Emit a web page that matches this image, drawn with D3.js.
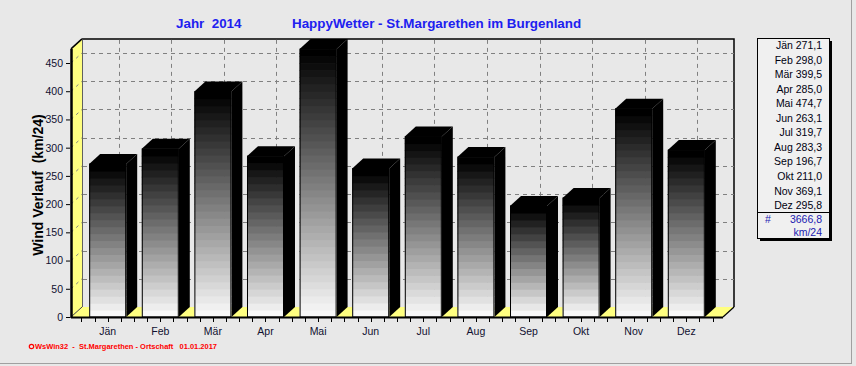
<!DOCTYPE html>
<html>
<head>
<meta charset="utf-8">
<script src="https://cdn.jsdelivr.net/npm/d3@7"></script>
<style>
  html, body { margin: 0; padding: 0; background: #e8e8e8; }
  svg { display: block; }
  text { font-family: "Liberation Sans", Arial, sans-serif; }
</style>
</head>
<body>
<svg id="chart" width="856" height="366"></svg>
<script>
const months = ["Jän","Feb","Mär","Apr","Mai","Jun","Jul","Aug","Sep","Okt","Nov","Dez"];
const values = [271.1,298.0,399.5,285.0,474.7,263.1,319.7,283.3,196.7,211.0,369.1,295.8];
const yTicks = [0,50,100,150,200,250,300,350,400,450];
const yMax = 475;
const titleYear = "Jahr  2014";
const titleMain = "HappyWetter - St.Margarethen im Burgenland";
const yLabel = "Wind Verlauf  (km/24)";
const totalLabel = "3666,8";
const unitLabel = "km/24";
const footer = "WsWin32  -  St.Margarethen - Ortschaft   01.01.2017";

const svg = d3.select("#chart");
const W = 856, H = 366;
const dx = 11, dy = 10;
const x0 = 71, x1 = 723, yBase = 317;

svg.append("rect").attr("x",0).attr("y",0).attr("width",W).attr("height",H).attr("fill","#e8e8e8");
svg.append("line").attr("x1",851.5).attr("x2",851.5).attr("y1",0).attr("y2",364).attr("stroke","#a0a0a0");
svg.append("line").attr("x1",0).attr("x2",852).attr("y1",363.5).attr("y2",363.5).attr("stroke","#a0a0a0");

const x = d3.scaleBand().domain(months).range([x0, x1]).paddingInner(0.2966).paddingOuter(0.3458);
const y = d3.scaleLinear().domain([0, 450]).range([yBase, 63]);
const bw = x.bandwidth();
const yTop = y(yMax);

// back wall border
svg.append("path")
  .attr("d", `M${x0+dx},${yTop-dy} L${x1+dx},${yTop-dy} L${x1+dx},${yBase-dy}`)
  .attr("fill","none").attr("stroke","#000").attr("stroke-width",1.5);

// left wall (yellow)
svg.append("path")
  .attr("d", `M${x0},${yBase} L${x0+dx},${yBase-dy} L${x0+dx},${yTop-dy} L${x0},${yTop} Z`)
  .attr("fill","#ffff80").attr("stroke","none");
svg.append("line").attr("x1",x0+dx+0.5).attr("x2",x0+dx+0.5).attr("y1",yTop-dy).attr("y2",yBase-dy)
  .attr("stroke","#606060").attr("stroke-width",1);
svg.append("line").attr("x1",x0).attr("y1",yTop).attr("x2",x0+dx).attr("y2",yTop-dy)
  .attr("stroke","#000").attr("stroke-width",1.5);

// floor (yellow)
svg.append("path")
  .attr("d", `M${x0},${yBase} L${x1},${yBase} L${x1+dx},${yBase-dy} L${x0+dx},${yBase-dy} Z`)
  .attr("fill","#ffff80").attr("stroke","none");
svg.append("line").attr("x1",x0).attr("y1",yBase).attr("x2",x0+dx).attr("y2",yBase-dy)
  .attr("stroke","#404040").attr("stroke-width",1);
svg.append("line").attr("x1",x1).attr("y1",yBase).attr("x2",x1+dx).attr("y2",yBase-dy)
  .attr("stroke","#000").attr("stroke-width",1.2);

// grid: horizontal on back wall + diagonals on left wall
const gridTicks = yTicks.filter(v => v > 0);
svg.append("g").selectAll("line").data(gridTicks).join("line")
  .attr("x1", x0+dx+1).attr("x2", x1+dx)
  .attr("y1", d => Math.round(y(d)-dy)+0.5).attr("y2", d => Math.round(y(d)-dy)+0.5)
  .attr("stroke","#808080").attr("stroke-dasharray","4,4");
svg.append("g").selectAll("line").data(gridTicks).join("line")
  .attr("x1", x0).attr("x2", x0+dx)
  .attr("y1", d => y(d)).attr("y2", d => y(d)-dy)
  .attr("stroke","#808080").attr("stroke-dasharray","3,4");
// vertical grid on back wall
svg.append("g").selectAll("line").data(months).join("line")
  .attr("x1", d => Math.round(x(d)+bw/2+dx)+0.5).attr("x2", d => Math.round(x(d)+bw/2+dx)+0.5)
  .attr("y1", yTop-dy+1).attr("y2", yBase-dy)
  .attr("stroke","#808080").attr("stroke-dasharray","4,4");

// bars
const bars = svg.append("g").selectAll("g").data(months.map((m,i)=>({m, v: values[i]}))).join("g");
bars.each(function(d){
  const g = d3.select(this);
  const xl = x(d.m), xr = xl + bw;
  const yt = y(d.v);
  const h = yBase - yt;
  // side face
  g.append("path")
    .attr("d", `M${xr},${yt} L${xr+dx},${yt-dy} L${xr+dx},${yBase-dy} L${xr},${yBase} Z`)
    .attr("fill","#000");
  // top face
  g.append("path")
    .attr("d", `M${xl},${yt} L${xl+dx},${yt-dy} L${xr+dx},${yt-dy} L${xr},${yt} Z`)
    .attr("fill","#000");
  // front face gradient bands
  const n = Math.max(2, Math.round(h/7));
  const bh = h / n;
  const bands = d3.range(n);
  g.selectAll("rect.band").data(bands).join("rect")
    .attr("class","band")
    .attr("x", xl).attr("width", bw)
    .attr("y", k => yBase - (k+1)*bh).attr("height", bh + 0.6)
    .attr("fill", k => { const c = Math.round(248*(1 - k/(n-1))); return d3.rgb(c,c,c); });
  g.append("rect").attr("x", xl+0.5).attr("y", yt).attr("width", bw-1).attr("height", h)
    .attr("fill","none").attr("stroke","#000").attr("stroke-width",1);
});

// front floor edge & left axis
svg.append("line").attr("x1",x0).attr("x2",x1).attr("y1",yBase+0.5).attr("y2",yBase+0.5)
  .attr("stroke","#000").attr("stroke-width",2);
svg.append("line").attr("x1",x0+0.5).attr("x2",x0+0.5).attr("y1",yTop).attr("y2",yBase+1)
  .attr("stroke","#000").attr("stroke-width",2.5);

// y axis ticks & labels
const yAxis = d3.axisLeft(y).tickValues(yTicks).tickSize(4).tickPadding(3).tickFormat(d3.format("d"));
const ya = svg.append("g").attr("transform",`translate(${x0-1},0)`).call(yAxis);
ya.select(".domain").remove();
ya.selectAll("line").attr("stroke","#000");
ya.selectAll("text").attr("font-size","10.5px").attr("fill","#101030")
  .attr("font-family","'Liberation Sans', Arial, sans-serif");

// x ticks (quarter-step)
const step = x.step();
const xTickPos = d3.range(0, 12*4+1).map(k => x(months[0]) + bw/2 - step/2 + k*step/4);
svg.append("g").selectAll("line").data(xTickPos).join("line")
  .attr("x1", d => Math.round(d)+0.5).attr("x2", d => Math.round(d)+0.5)
  .attr("y1", yBase+1).attr("y2", yBase+5).attr("stroke","#000");
// x labels
svg.append("g").selectAll("text").data(months).join("text")
  .attr("x", d => x(d)+bw/2).attr("y", 335)
  .attr("text-anchor","middle").attr("font-size","10.5px").attr("fill","#101030")
  .text(d => d);

// titles
svg.append("text").attr("x",176).attr("y",28).attr("font-size","13.4px").attr("font-weight","bold")
  .attr("fill","#2020f0").attr("xml:space","preserve").style("white-space","pre").text(titleYear);
svg.append("text").attr("x",292).attr("y",28).attr("font-size","13.4px").attr("font-weight","bold")
  .attr("fill","#2020f0").text(titleMain);

// y label
svg.append("text").attr("transform","translate(43,185) rotate(-90)")
  .attr("text-anchor","middle").attr("font-size","14px").attr("font-weight","bold")
  .attr("fill","#000").style("white-space","pre").text(yLabel);

// legend
const lx = 757, ly = 38, lw = 72, lh = 200;
svg.append("rect").attr("x",lx+3).attr("y",ly+3).attr("width",lw).attr("height",lh).attr("fill","#000");
svg.append("rect").attr("x",lx+0.5).attr("y",ly+0.5).attr("width",lw).attr("height",lh)
  .attr("fill","#f0f0f0").attr("stroke","#000");
const fmt = v => d3.format(".1f")(v).replace(".", ",");
svg.append("g").selectAll("text").data(months).join("text")
  .attr("x", 822).attr("y", (d,i) => 49 + i*14.55)
  .attr("text-anchor","end").attr("font-size","10.5px").attr("fill","#000010")
  .text((d,i) => d + " " + fmt(values[i]));
svg.append("line").attr("x1",lx).attr("x2",lx+lw).attr("y1",212.5).attr("y2",212.5).attr("stroke","#000");
svg.append("text").attr("x",765).attr("y",223).attr("font-size","10.5px").attr("fill","#2020b0").text("#");
svg.append("text").attr("x",822).attr("y",223).attr("text-anchor","end").attr("font-size","10.5px")
  .attr("fill","#2020b0").text(totalLabel);
svg.append("text").attr("x",822).attr("y",236).attr("text-anchor","end").attr("font-size","10.5px")
  .attr("fill","#2020b0").text(unitLabel);

// footer
svg.append("circle").attr("cx",31.5).attr("cy",346.5).attr("r",2.2).attr("fill","none").attr("stroke","#ff0000").attr("stroke-width",1.2);
svg.append("text").attr("x",35).attr("y",349).attr("font-size","7px").attr("font-weight","bold")
  .attr("font-family","'DejaVu Sans', sans-serif").attr("fill","#ff0000")
  .attr("textLength",182).attr("lengthAdjust","spacingAndGlyphs")
  .style("white-space","pre").text(footer);
</script>
</body>
</html>
